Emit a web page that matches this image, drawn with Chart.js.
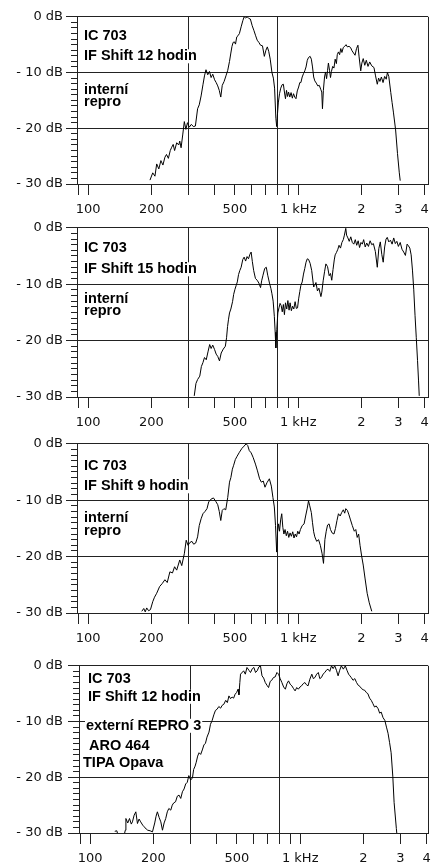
<!DOCTYPE html>
<html>
<head>
<meta charset="utf-8">
<script src="https://cdn.jsdelivr.net/npm/chart.js@4.4.1/dist/chart.umd.min.js"></script>
<style>
  html, body { margin: 0; padding: 0; background: #fff; overflow: hidden; }
  body { width: 435px; height: 862px; position: relative; }
  canvas { position: absolute; left: 0; }
</style>
</head>
<body>
<canvas id="c1"></canvas>
<canvas id="c2"></canvas>
<canvas id="c3"></canvas>
<canvas id="c4"></canvas>
<script>
// frekvencni charakteristiky [Hz, dB]
const shift12Int = [[197,-29.3],[203,-28],[208,-28.6],[212,-26.4],[217,-27.3],[222,-25.8],[227,-26.6],[232,-25.2],[236,-24.7],[241,-25.4],[246,-24],[250,-23.4],[254,-22.9],[258,-24],[264,-22.6],[270,-23],[273,-22.3],[277,-23.5],[282,-21.2],[287,-18.8],[292,-20.2],[297,-19],[303,-19.8],[310,-19.3],[317,-19.7],[324,-19.6],[332,-16.5],[338,-15.8],[345,-14.2],[352,-12.2],[358,-10.6],[364,-9.5],[371,-10.4],[378,-9.8],[385,-10.9],[392,-10.3],[400,-11.3],[407,-11.8],[414,-12.4],[421,-13.2],[428,-14.4],[435,-12.3],[444,-11.6],[453,-10.6],[462,-9.6],[471,-8],[478,-6.5],[484,-5.3],[490,-4.6],[497,-4.5],[503,-4.9],[510,-3.6],[517,-3.4],[525,-3],[535,-1.8],[545,-0.7],[553,0],[562,-0.2],[572,0],[582,-0.3],[592,-0.4],[604,-1.6],[616,-2.5],[626,-3.3],[638,-4.2],[650,-4.6],[662,-5.1],[676,-5.2],[690,-7.1],[702,-6],[713,-5.4],[724,-6.2],[736,-7.6],[750,-10],[762,-11],[772,-12.8],[783,-18.2],[790,-19.7],[797,-17.4],[805,-15.3],[815,-13.8],[826,-12.8],[838,-12.2],[850,-12.1],[860,-13.5],[870,-14.7],[880,-13.2],[890,-14.3],[900,-13.5],[912,-14.4],[925,-13.6],[938,-14.6],[950,-13.8],[963,-14.4],[976,-14.7],[990,-13.3],[1005,-12.6],[1018,-11.8],[1030,-11.8],[1045,-10.8],[1060,-10.2],[1075,-9.7],[1090,-9],[1105,-7.8],[1120,-7.3],[1140,-7.1],[1155,-7.6],[1170,-9],[1185,-10.8],[1200,-11.5],[1220,-11.9],[1240,-12.4],[1260,-12.3],[1280,-13],[1295,-13.5],[1305,-16.5],[1318,-13.2],[1335,-10.8],[1350,-9.9],[1365,-11.1],[1380,-9.6],[1393,-8.3],[1410,-9.6],[1425,-10.9],[1440,-9.8],[1460,-8.9],[1480,-9.2],[1500,-7.6],[1520,-8.4],[1535,-6.8],[1555,-6.3],[1575,-6.8],[1595,-5.7],[1615,-6.4],[1640,-5.5],[1665,-5.3],[1690,-5],[1715,-5.4],[1745,-5.3],[1775,-5.5],[1805,-6.1],[1835,-6.5],[1865,-6.9],[1895,-5.7],[1925,-5.1],[1950,-7.2],[1985,-9.7],[2010,-8.3],[2040,-7.5],[2075,-8.7],[2110,-7.8],[2150,-8.9],[2190,-8.1],[2240,-8.8],[2295,-9.1],[2335,-10.6],[2380,-12.1],[2415,-11],[2450,-11.6],[2490,-10.8],[2535,-11.8],[2580,-10.7],[2625,-11.2],[2660,-10],[2700,-10.7],[2760,-13.6],[2800,-15.4],[2840,-17.1],[2910,-20.3],[2970,-24.5],[3030,-28],[3060,-29.4]];

const shift15Int = [[320,-29.8],[326,-27.6],[332,-26.9],[340,-26.3],[346,-24.6],[352,-23.9],[358,-23],[365,-23.4],[372,-22],[379,-20.7],[385,-21.4],[392,-20.8],[400,-21.6],[407,-22.4],[414,-22.8],[422,-23.6],[430,-22.2],[440,-21.5],[450,-21],[456,-19.5],[461,-17.5],[466,-16.2],[471,-15.1],[478,-14.4],[487,-13.1],[493,-11.8],[500,-10.9],[507,-10.2],[513,-9.6],[520,-8.3],[527,-7.6],[535,-7],[545,-5.6],[553,-5.2],[562,-5.9],[571,-5.1],[580,-5.5],[589,-4.7],[597,-4.3],[605,-6],[614,-7.6],[626,-9],[638,-9.3],[650,-9.8],[662,-10.6],[670,-9.4],[680,-8.4],[693,-7.2],[705,-7],[716,-8.4],[730,-9.8],[742,-10.8],[750,-11.7],[760,-13],[770,-15.7],[777,-18.5],[783,-21.3],[791,-18],[800,-15.1],[810,-14.2],[820,-13.4],[830,-13.8],[840,-14.9],[850,-13.6],[860,-15.4],[870,-13.3],[882,-14.4],[893,-12.9],[905,-14.6],[915,-13.3],[928,-14.7],[940,-13.9],[953,-14.4],[967,-13.1],[980,-14.3],[993,-14.2],[1005,-12.6],[1018,-11.3],[1030,-10.2],[1045,-9.6],[1060,-8.2],[1075,-7.2],[1090,-6.1],[1105,-5.5],[1120,-5.6],[1140,-6.3],[1160,-7.6],[1185,-10.5],[1200,-10.2],[1215,-9.7],[1235,-11.2],[1255,-10.7],[1283,-12.2],[1296,-11.4],[1315,-9.4],[1335,-7.8],[1355,-6.4],[1380,-6.9],[1405,-8.5],[1425,-8.1],[1445,-9.3],[1465,-7.4],[1485,-5.7],[1500,-4.8],[1520,-4.4],[1545,-3.8],[1565,-3.1],[1590,-3.6],[1615,-2.6],[1640,-2.1],[1660,-1.3],[1685,-0.1],[1700,-1.3],[1725,-1.8],[1750,-2.4],[1780,-1.6],[1810,-2.6],[1840,-2.9],[1870,-2.1],[1900,-3.1],[1930,-2.3],[1960,-3.5],[1990,-2.6],[2020,-2.9],[2050,-2.1],[2085,-3.4],[2120,-2.7],[2160,-3.3],[2200,-2.3],[2240,-3],[2280,-2.8],[2330,-4.2],[2380,-7],[2420,-3.7],[2460,-2.5],[2500,-4.7],[2540,-6.1],[2580,-3.4],[2620,-2],[2655,-1.7],[2700,-2.5],[2750,-2.2],[2800,-2.9],[2850,-1.8],[2900,-2.8],[2950,-2.4],[3000,-3.3],[3060,-2.6],[3120,-3.8],[3180,-4.3],[3240,-4.9],[3300,-2.9],[3350,-3.2],[3400,-3.6],[3450,-4.8],[3500,-7.5],[3550,-11],[3600,-15.5],[3650,-19.5],[3700,-23.5],[3740,-27],[3770,-29.8]];

const shift9Int = [[180,-29.7],[184,-29.2],[187,-29.8],[190,-29.1],[194,-29.6],[198,-29.4],[203,-28],[207,-27.2],[212,-26.5],[219,-25.3],[225,-24.8],[232,-24.1],[238,-24.6],[245,-22.7],[252,-22.9],[258,-21.8],[264,-22.4],[273,-20.6],[279,-21.6],[287,-19.5],[293,-17.1],[299,-18],[305,-17.5],[312,-17.3],[318,-17.8],[325,-17.6],[332,-16.5],[338,-14.5],[345,-13.3],[352,-12.4],[360,-12],[368,-11.5],[375,-10.3],[385,-9.8],[395,-9.6],[405,-10.2],[414,-10.8],[421,-12],[428,-13.6],[435,-11.8],[443,-11.5],[452,-11.7],[462,-9.5],[471,-6.8],[478,-6],[486,-4.5],[493,-3.8],[502,-2.8],[512,-2.2],[525,-1.5],[540,-0.8],[553,-0.4],[565,0],[575,-0.3],[585,-1.2],[597,-1.6],[610,-2.4],[626,-3.6],[640,-4.8],[655,-6.2],[668,-6.8],[682,-6.6],[695,-7.7],[710,-6.9],[729,-6.2],[745,-7.5],[758,-9.5],[770,-11.2],[780,-14.5],[790,-19.2],[798,-15.5],[806,-14.2],[815,-15.5],[825,-13.5],[835,-12.4],[845,-14.8],[855,-16],[866,-15.2],[878,-16.3],[890,-15.5],[902,-16.6],[915,-15.8],[928,-16.4],[942,-15.6],[955,-16.7],[968,-16],[982,-16.5],[995,-15.5],[1010,-16],[1025,-15.2],[1045,-14.5],[1067,-14.2],[1085,-12.8],[1105,-11.4],[1120,-10.1],[1135,-11],[1155,-12.2],[1170,-14],[1185,-15.6],[1200,-16.5],[1225,-17.3],[1250,-17],[1275,-18],[1300,-19.5],[1320,-21.2],[1340,-17],[1360,-15.5],[1380,-14.4],[1403,-14.2],[1425,-15.2],[1450,-15.8],[1480,-16],[1505,-15],[1530,-13.6],[1555,-12.4],[1585,-12.8],[1610,-12.2],[1640,-11.7],[1665,-12.3],[1685,-11.5],[1715,-11.8],[1745,-12.6],[1775,-13.5],[1810,-14.5],[1850,-15.5],[1880,-15.2],[1910,-16.6],[1940,-16],[1970,-18],[2005,-19.9],[2040,-21.5],[2080,-23.8],[2130,-26.5],[2180,-28.2],[2240,-29.7]];

const shift12Ext = [[131,-29.7],[134,-29.6],[137,-31],[143,-31.5],[147,-29.5],[148,-27.4],[151,-28.2],[154,-27.4],[157,-28.4],[159,-28],[162,-26.8],[165,-26.2],[168,-28.3],[171,-27.5],[174,-28],[178,-28.6],[181,-28.9],[185,-29.3],[188,-29.5],[193,-29.6],[198,-29.8],[203,-28.2],[206,-27],[209,-26.2],[213,-27.2],[217,-28],[221,-29.5],[225,-28.2],[229,-27.4],[233,-26.2],[237,-25.6],[242,-25.9],[246,-25],[250,-24.6],[255,-24.4],[260,-23.4],[265,-23.2],[270,-23.8],[275,-22.6],[280,-22.1],[285,-21.2],[290,-20.9],[295,-19.7],[301,-20.5],[307,-20.1],[311,-18.6],[316,-18],[320,-17.3],[325,-16.2],[330,-15.6],[336,-15.9],[342,-15.1],[348,-14.2],[354,-13.9],[360,-12.8],[368,-11.9],[374,-10.5],[381,-9.8],[388,-8.8],[395,-8],[402,-7.8],[410,-7.3],[418,-7.6],[425,-7.1],[433,-6.9],[442,-6.2],[450,-6.6],[458,-5.4],[466,-5.9],[474,-5.6],[482,-5.8],[490,-5.1],[498,-4.8],[506,-4.2],[511,-5.2],[516,-3],[520,-1.5],[538,-0.9],[548,-1.5],[558,-0.3],[570,-0.8],[580,-1.2],[592,-0.5],[602,-0.3],[613,-1.2],[624,-0.9],[636,-0.2],[647,0],[658,-1.8],[670,-2.2],[682,-3],[695,-3.5],[707,-3.9],[720,-2.8],[732,-2.6],[746,-2.1],[760,-2],[775,-1.2],[789,-1.5],[803,-2.3],[818,-3],[834,-3.8],[850,-4.2],[865,-3.2],[880,-2.7],[896,-3.3],[913,-3.6],[930,-4.1],[946,-4.5],[963,-3.9],[980,-4.2],[998,-3.8],[1015,-3.6],[1034,-3.2],[1053,-3],[1071,-3.4],[1090,-3.6],[1112,-2.4],[1136,-1.5],[1155,-2.3],[1175,-2.1],[1198,-1.5],[1220,-1.2],[1240,-2.3],[1262,-2.1],[1285,-1.5],[1310,-1.2],[1332,-0.8],[1356,-0.6],[1383,-1],[1410,0],[1435,-0.5],[1460,0],[1488,-0.8],[1515,-1.8],[1542,-0.8],[1570,0],[1605,-0.6],[1640,0],[1670,-0.8],[1700,-1.5],[1725,-1.8],[1750,-2.1],[1785,-2.6],[1820,-2.3],[1855,-3],[1890,-3.5],[1925,-3.7],[1960,-4.1],[1995,-4.3],[2030,-4.4],[2065,-4.8],[2100,-5],[2140,-5.8],[2180,-6.2],[2220,-6.8],[2260,-7.4],[2300,-7.2],[2350,-7.7],[2390,-8.5],[2430,-8.3],[2480,-9.3],[2530,-9.8],[2575,-11],[2620,-12.1],[2665,-13.8],[2710,-15.6],[2760,-19.8],[2800,-24.5],[2870,-29.2],[2900,-31]];

// osy
const xTicks = [90, 100, 200, 300, 400, 500, 600, 700, 800, 900, 1000, 2000, 3000, 4000];
const xGridAt = [300, 800];
const xLabels = {100: '100', 200: '200', 500: '500', 1000: '1 kHz', 2000: '2', 3000: '3', 4000: '4'};
const xMin = 88.5;

// popisky
const notes1 = ['IC 703', 'IF Shift 12 hodin', 'interní', 'repro'];
const notes2 = ['IC 703', 'IF Shift 15 hodin', 'interní', 'repro'];
const notes3 = ['IC 703', 'IF Shift 9 hodin', 'interní', 'repro'];
const notes4 = ['IC 703', 'IF Shift 12 hodin', 'externí REPRO 3', 'ARO 464', 'TIPA Opava'];

const GRID = '#222';
const PAD_TOP = 10;
const AXIS_H = 34;
const tickFont = { family: '"DejaVu Sans", sans-serif', size: 13 };

const panels = [
  { id: 'c1', data: shift12Int, top: 16, bottom: 184, left: 77, xMax: 4150, labelPad: 3,
    notes: notes1, noteX: [84, 84, 84, 84], noteY: [23.5, 43.5, 77, 89.5] },
  { id: 'c2', data: shift15Int, top: 227, bottom: 397, left: 77, xMax: 4150, labelPad: 3,
    notes: notes2, noteX: [84, 84, 84, 84], noteY: [24.5, 45.5, 75, 87.5] },
  { id: 'c3', data: shift9Int, top: 443, bottom: 613, left: 77, xMax: 4150, labelPad: 3,
    notes: notes3, noteX: [84, 84, 84, 84], noteY: [26.5, 46.5, 78.5, 91] },
  { id: 'c4', data: shift12Ext, top: 663, bottom: 833, left: 79, xMax: 4060, labelPad: 5,
    notes: notes4, noteX: [88, 88, 86, 89, 83], noteY: [17, 35, 64, 84, 101] }
];

// textove popisky uvnitr grafu (s bilym podkladem)
const notesPlugin = {
  id: 'notes',
  beforeDatasetsDraw(chart, args, opts) {
    const ctx = chart.ctx;
    const top = chart.chartArea.top;
    ctx.save();
    ctx.font = 'bold 14.5px "Liberation Sans", Arial, sans-serif';
    ctx.textBaseline = 'alphabetic';
    ctx.fillStyle = '#fff';
    opts.texts.forEach((t, i) => {
      const w = ctx.measureText(t).width;
      ctx.fillRect(opts.xs[i] - 1, top + opts.ys[i] - 11, w + 2, 14);
    });
    ctx.fillStyle = '#000';
    opts.texts.forEach((t, i) => {
      ctx.fillText(t, opts.xs[i], top + opts.ys[i]);
    });
    ctx.restore();
  }
};

function makeChart(p) {
  const canvas = document.getElementById(p.id);
  const h = PAD_TOP + (p.bottom - p.top) + AXIS_H;
  canvas.width = 435;
  canvas.height = h;
  canvas.style.width = '435px';
  canvas.style.height = h + 'px';
  canvas.style.top = (p.top - PAD_TOP) + 'px';

  const gridX = ctx => {
    const v = ctx.tick && ctx.tick.value;
    return (xGridAt.includes(v) || v === p.xMax) ? GRID : 'rgba(0,0,0,0)';
  };
  const tickX = ctx => (ctx.tick && ctx.tick.value === p.xMax) ? 'rgba(0,0,0,0)' : GRID;

  return new Chart(canvas, {
    type: 'line',
    data: {
      datasets: [{
        data: p.data.map(d => ({ x: d[0], y: d[1] })),
        borderColor: '#000',
        borderWidth: 1,
        pointRadius: 0,
        tension: 0,
        yAxisID: 'y'
      }]
    },
    options: {
      responsive: false,
      animation: false,
      events: [],
      layout: { padding: { top: PAD_TOP, right: 5, left: 0, bottom: 0 } },
      plugins: {
        legend: { display: false },
        tooltip: { enabled: false },
        notes: { texts: p.notes, xs: p.noteX, ys: p.noteY }
      },
      scales: {
        x: {
          type: 'logarithmic',
          min: xMin,
          max: p.xMax,
          afterBuildTicks: s => { s.ticks = xTicks.concat([p.xMax]).map(v => ({ value: v })); },
          afterFit: s => { s.height = AXIS_H; },
          ticks: {
            autoSkip: false,
            maxRotation: 0,
            padding: 7,
            color: '#111',
            font: tickFont,
            callback: v => xLabels[v] || ''
          },
          grid: { color: gridX, tickColor: tickX, tickLength: 11 },
          border: { display: true, color: GRID }
        },
        y: {
          type: 'linear',
          position: 'left',
          weight: 1,
          min: -30,
          max: 0,
          afterFit: s => { s.width = p.left - 6; },
          ticks: {
            stepSize: 10,
            padding: p.labelPad,
            color: '#111',
            font: tickFont,
            callback: v => v === 0 ? '0 dB' : '- ' + Math.abs(v) + ' dB'
          },
          grid: { color: GRID, tickLength: 5 },
          border: { display: false }
        },
        ym: {
          type: 'linear',
          position: 'left',
          weight: 0,
          min: -30,
          max: 0,
          afterFit: s => { s.width = 6; },
          ticks: { display: false, stepSize: 1, autoSkip: false, maxTicksLimit: 100 },
          grid: { drawOnChartArea: false, color: GRID, tickLength: 6 },
          border: { display: true, color: GRID }
        }
      }
    },
    plugins: [notesPlugin]
  });
}

panels.forEach(makeChart);
</script>
</body>
</html>
